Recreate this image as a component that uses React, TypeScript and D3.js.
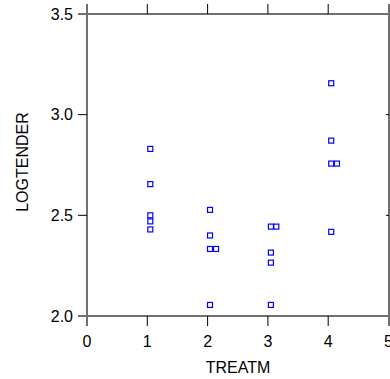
import React, { useRef, useEffect } from "react";
import * as d3 from "d3";

// TREATM (jittered) and LOGTENDER
const treatm = [1.05, 1.05, 1.05, 1.05, 1.05, 2.04, 2.04, 2.04, 2.14, 2.04, 3.05, 3.14, 3.05, 3.05, 3.05, 4.05, 4.05, 4.05, 4.145, 4.05];
const logtender = [2.83, 2.655, 2.5, 2.47, 2.43, 2.527, 2.4, 2.333, 2.333, 2.055, 2.444, 2.444, 2.315, 2.265, 2.055, 3.156, 2.871, 2.757, 2.757, 2.418];
const xTicks = [0, 1, 2, 3, 4, 5];
const yTicks = [2.0, 2.5, 3.0, 3.5];

const App = () => {
  const svgRef = useRef<SVGSVGElement>(null);

  useEffect(() => {
    const width = 390;
    const height = 379;
    const svg = d3.select(svgRef.current).attr("width", width).attr("height", height);
    svg.selectAll("*").remove();

    const left = 87, right = 389, top = 14, bottom = 316;
    const x = d3.scaleLinear().domain([0, 5]).range([left, left + 5 * 60.3]);
    const y = d3.scaleLinear().domain([2.0, 3.5]).range([bottom, top]);
    const font = "'Liberation Sans', Arial, sans-serif";

    // frame
    const frame = svg.append("g").attr("stroke", "#707070").attr("stroke-width", 2);
    frame.append("line").attr("x1", left).attr("x2", left).attr("y1", top - 10).attr("y2", bottom + 10);
    frame.append("line").attr("x1", right).attr("x2", right).attr("y1", top - 10).attr("y2", bottom + 10);
    frame.append("line").attr("x1", left - 9).attr("x2", width).attr("y1", top).attr("y2", top);
    frame.append("line").attr("x1", left - 9).attr("x2", width).attr("y1", bottom).attr("y2", bottom);

    const ticks = svg.append("g").attr("stroke", "#000").attr("stroke-width", 1);
    xTicks.slice(1, 5).forEach((t) => {
      ticks.append("line").attr("x1", x(t)).attr("x2", x(t)).attr("y1", bottom).attr("y2", bottom + 10);
      ticks.append("line").attr("x1", x(t)).attr("x2", x(t)).attr("y1", top).attr("y2", top - 10);
    });
    yTicks.slice(1, 3).forEach((t) => {
      ticks.append("line").attr("x1", left - 9).attr("x2", left).attr("y1", y(t)).attr("y2", y(t));
      ticks.append("line").attr("x1", right - 3).attr("x2", right).attr("y1", y(t)).attr("y2", y(t));
    });

    svg.append("g")
      .selectAll("text")
      .data(xTicks)
      .join("text")
      .attr("x", (d) => x(d))
      .attr("y", bottom + 31)
      .attr("text-anchor", "middle")
      .style("font-family", font)
      .style("font-size", "16px")
      .attr("fill", "#000")
      .text((d) => d3.format("d")(d));

    svg.append("g")
      .selectAll("text")
      .data(yTicks)
      .join("text")
      .attr("x", left - 14)
      .attr("y", (d) => y(d) + 5.5)
      .attr("text-anchor", "end")
      .style("font-family", font)
      .style("font-size", "16px")
      .attr("fill", "#000")
      .text((d) => d3.format(".1f")(d));

    svg.append("text")
      .attr("x", 238)
      .attr("y", 373)
      .attr("text-anchor", "middle")
      .style("font-family", font)
      .style("font-size", "16px")
      .text("TREATM");

    svg.append("text")
      .attr("transform", `translate(28,162) rotate(-90)`)
      .attr("text-anchor", "middle")
      .style("font-family", font)
      .style("font-size", "16px")
      .text("LOGTENDER");

    svg.append("g")
      .selectAll("rect")
      .data(treatm.map((t, i) => [t, logtender[i]]))
      .join("rect")
      .attr("x", (d) => x(d[0]) - 2.5)
      .attr("y", (d) => y(d[1]) - 2.5)
      .attr("width", 5)
      .attr("height", 5)
      .attr("fill", "none")
      .attr("stroke", "#0000ff")
      .attr("stroke-width", 1.2);
  }, []);

  return <svg ref={svgRef} style={{ position: "absolute", left: 0, top: 0 }}></svg>;
};

export default App;
